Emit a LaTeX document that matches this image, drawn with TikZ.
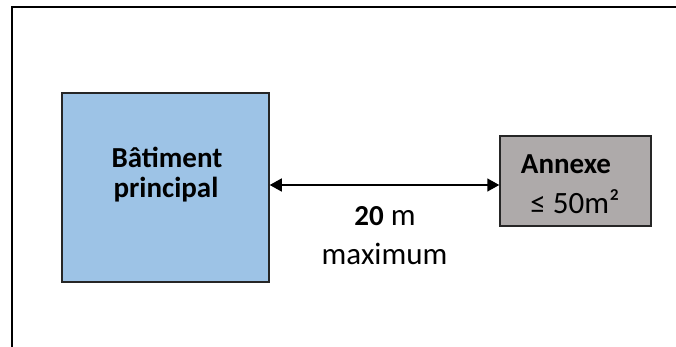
\documentclass[tikz,border=0pt]{standalone}
\usepackage{fontspec}
\setmainfont{Carlito}
\usetikzlibrary{arrows.meta}
\definecolor{boxblue}{HTML}{9DC3E6}
\definecolor{boxgray}{HTML}{AEAAAA}
\definecolor{edge}{HTML}{262626}
\tikzset{
  building/.style={draw=edge, line width=1.5pt, inner sep=0pt},
  lbl/.style={anchor=base, inner sep=0pt, font=\fontsize{31}{36}\selectfont},
  blbl/.style={anchor=base, inner sep=0pt, font=\fontsize{29}{34}\selectfont\bfseries},
  dim/.style={{Triangle[length=12pt,width=13pt]}-{Triangle[length=12pt,width=13pt]}, line width=1.5pt},
}
\begin{document}
\begin{tikzpicture}[x=1pt,y=-1pt]
\useasboundingbox (0,0) rectangle (676,347);
\draw[line width=2pt] (12,347) -- (12,7.5) -- (676,7.5);
\node[building, fill=boxblue, minimum width=207pt, minimum height=189pt] (main) at (165.5,187.5) {};
\node[building, fill=boxgray, minimum width=151pt, minimum height=90pt] (annex) at (575.5,181) {};
\node[blbl] (m1) at (167,168) {Bâtiment};
\node[blbl] (m2) at (166,197.5) {principal};
\node[blbl] (a1) at (566,174) {Annexe};
\node[lbl] (a2) at (575,213) {≤ 50m²};
\coordinate (ay) at (0,185);
\draw[dim] (main.east |- ay) -- (annex.west |- ay);
\node[lbl] (d1) at (385,225.5) {{\fontsize{29}{34}\selectfont\bfseries 20} m};
\node[lbl] (d2) at (384.5,264) {maximum};
\end{tikzpicture}
\end{document}
